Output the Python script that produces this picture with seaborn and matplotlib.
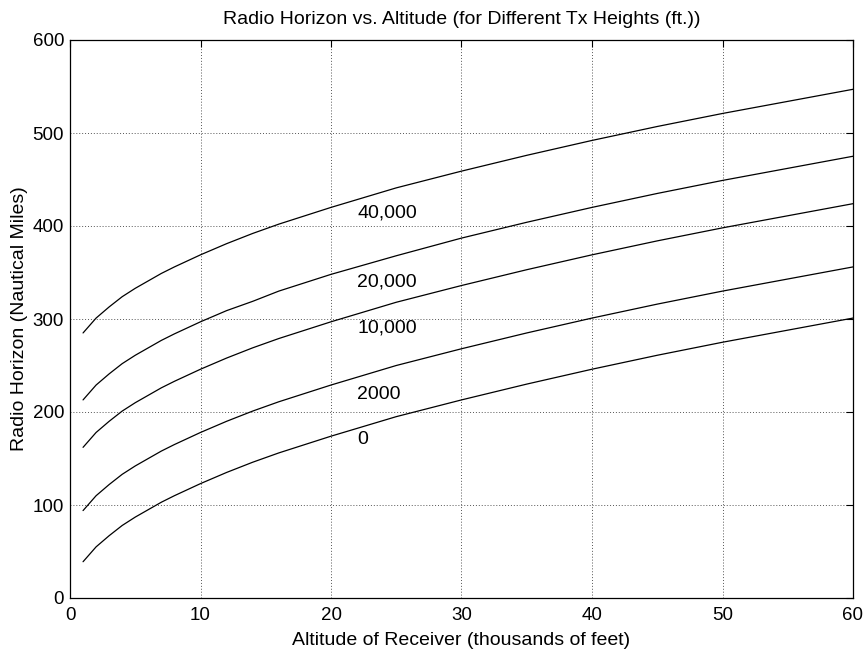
import matplotlib
matplotlib.use("Agg")
import matplotlib.pyplot as plt
import seaborn as sns
import pandas as pd

# Receiver altitude (thousands of feet)
altitude = [1, 2, 3, 4, 5, 6, 7, 8, 10, 12, 14, 16, 18, 20, 25, 30, 35, 40, 45, 50, 55, 60]

# Radio horizon (nautical miles) per transmitter height
horizon_0 = [39, 55, 67, 78, 87, 95, 103, 110, 123, 135, 146, 156, 165, 174, 195, 213, 230, 246, 261, 275, 288, 301]
horizon_2000 = [94, 110, 122, 133, 142, 150, 158, 165, 178, 190, 201, 211, 220, 229, 250, 268, 285, 301, 316, 330, 343, 356]
horizon_10000 = [162, 178, 190, 201, 210, 218, 226, 233, 246, 258, 269, 279, 288, 297, 318, 336, 353, 369, 384, 398, 411, 424]
horizon_20000 = [213, 229, 241, 252, 261, 269, 277, 284, 297, 309, 319, 330, 339, 348, 368, 387, 404, 420, 435, 449, 462, 475]
horizon_40000 = [285, 301, 313, 324, 333, 341, 349, 356, 369, 381, 392, 402, 411, 420, 441, 459, 476, 492, 507, 521, 534, 547]

series_names = ["0", "2000", "10,000", "20,000", "40,000"]
label_x = 22
label_y = [170, 219, 290, 340, 414]

all_series = [horizon_0, horizon_2000, horizon_10000, horizon_20000, horizon_40000]
frames = []
for name, vals in zip(series_names, all_series):
    frames.append(pd.DataFrame({"alt": altitude, "horizon": vals, "tx": name}))
df = pd.concat(frames, ignore_index=True)

sns.set_style("white")
plt.rcParams["font.family"] = ["Liberation Sans", "DejaVu Sans"]
plt.rcParams["text.color"] = "black"
plt.rcParams["axes.labelcolor"] = "black"
plt.rcParams["axes.titlecolor"] = "black"
plt.rcParams["xtick.color"] = "black"
plt.rcParams["ytick.color"] = "black"

fig = plt.figure(figsize=(8.65, 6.5), dpi=100)
ax = fig.add_axes([70 / 865, 1 - 598 / 650, (853 - 70) / 865, (598 - 40) / 650])

sns.lineplot(data=df, x="alt", y="horizon", hue="tx",
             palette={n: "black" for n in series_names},
             linewidth=0.9, legend=False, ax=ax, estimator=None)

for name, yv in zip(series_names, label_y):
    ax.text(label_x, yv, name, ha="left", va="center", fontsize=14, color="black")

ax.set_xlim(0, 60)
ax.set_ylim(0, 600)
ax.set_xticks([0, 10, 20, 30, 40, 50, 60])
ax.set_yticks([0, 100, 200, 300, 400, 500, 600])
ax.grid(True, linestyle=(0, (1, 2)), color="#555555", linewidth=0.7)
ax.tick_params(direction="in", length=5, width=0.8, top=True, right=True,
               labelsize=13.5, colors="black")
ax.tick_params(axis="x", pad=6.5)
ax.tick_params(axis="y", pad=4.3)
for s in ax.spines.values():
    s.set_color("black")
    s.set_linewidth(0.9)

ax.set_title("Radio Horizon vs. Altitude (for Different Tx Heights (ft.))", fontsize=14, pad=11.5, color="black")
ax.set_xlabel("Altitude of Receiver (thousands of feet)", fontsize=14, labelpad=5.5, color="black")
ax.set_ylabel("Radio Horizon (Nautical Miles)", fontsize=14, labelpad=3.6, color="black")

fig.savefig("out.png", dpi=100, facecolor="white")
